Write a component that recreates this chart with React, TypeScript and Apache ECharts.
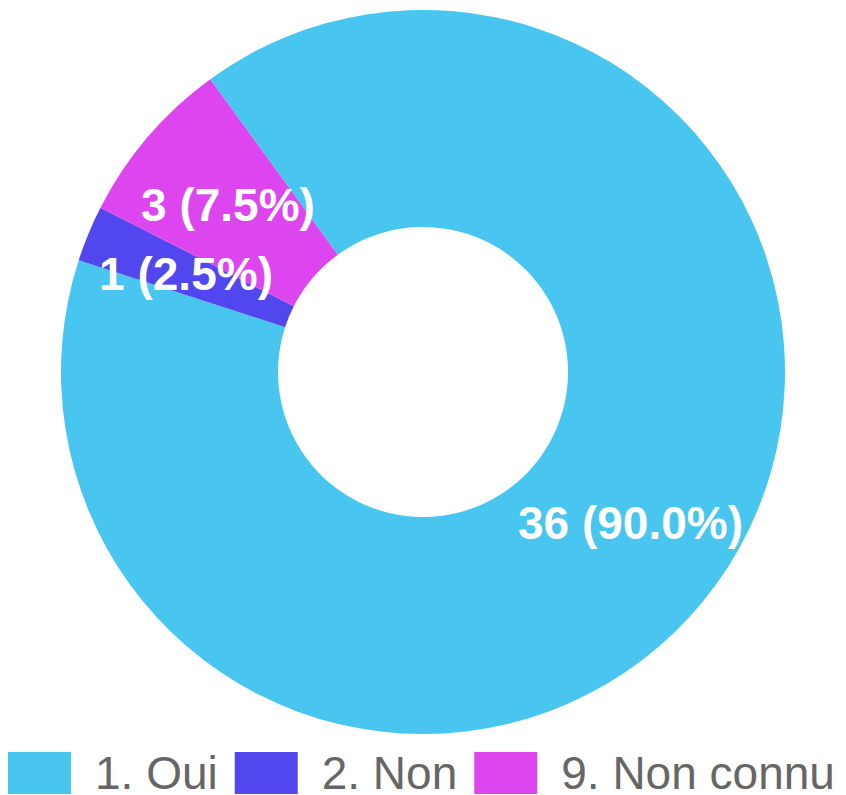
import React, { useEffect, useRef } from "react";
import * as echarts from "echarts";

const categories = ["1. Oui", "2. Non", "9. Non connu"];
const counts = [36, 1, 3];
const colors = ["#48C6EF", "#5246EF", "#DD46EE"];

export default function App() {
  const ref = useRef<HTMLDivElement>(null);
  useEffect(() => {
    if (!ref.current) return;
    const chart = echarts.init(ref.current, null, { renderer: "svg" });
    const total = counts.reduce((a, b) => a + b, 0);
    chart.setOption({
      animation: false,
      color: colors,
      legend: {
        left: 8,
        top: 750,
        padding: 0,
        orient: "horizontal",
        itemWidth: 63,
        itemHeight: 42,
        itemGap: 17,
        icon: "rect",
        textStyle: {
          fontSize: 46,
          color: "#666666",
          fontFamily: "'Liberation Sans', Arial, Helvetica, sans-serif",
          padding: [0, 0, 0, 19],
        },
        data: categories,
      },
      series: [
        {
          type: "pie",
          center: [423, 372],
          radius: [145, 362],
          startAngle: 126,
          clockwise: true,
          avoidLabelOverlap: false,
          itemStyle: { borderWidth: 0 },
          emphasis: { disabled: true },
          label: {
            show: true,
            position: "inside",
            color: "#ffffff",
            fontSize: 46,
            fontWeight: "bold",
            fontFamily: "'Liberation Sans', Arial, Helvetica, sans-serif",
            formatter: (p: any) =>
              `${p.value} (${((p.value / total) * 100).toFixed(1)}%)`,
          },
          labelLine: { show: false },
          data: categories.map((name, i) => ({ name, value: counts[i] })),
        },
      ],
    });
    return () => chart.dispose();
  }, []);
  return (
    <div
      ref={ref}
      style={{ position: "fixed", left: 0, top: 0, width: 846, height: 795, background: "#ffffff" }}
    />
  );
}
